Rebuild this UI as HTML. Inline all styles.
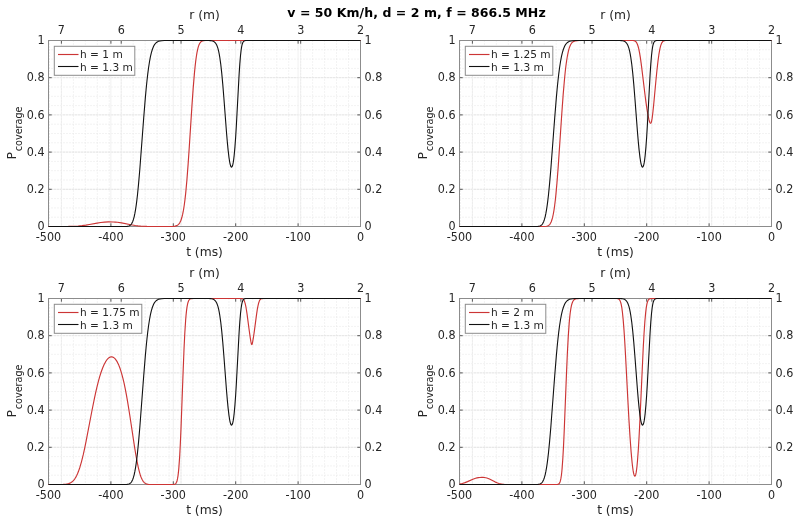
<!DOCTYPE html>
<html><head><meta charset="utf-8"><title>P coverage</title><style>
html,body{margin:0;padding:0;background:#fff;}
svg{display:block;}
text{font-family:"DejaVu Sans","Liberation Sans",sans-serif;fill:#262626;}
.tl{font-size:11.2px;}
.al{font-size:12.3px;}
.sub{font-size:9.6px;}
.lt{font-size:10.6px;}
.tt{font-size:12.5px;font-weight:bold;fill:#000;letter-spacing:0.06px;}
.mn{stroke:#e6e6e6;stroke-width:1;stroke-dasharray:1 2;fill:none;}
.mj{stroke:#f1f1f1;stroke-width:1;fill:none;}
.md{stroke:#d8d8d8;stroke-width:1;stroke-dasharray:1 2;fill:none;}
.tk{stroke:#555;stroke-width:1;fill:none;}
.box{stroke:#8c8c8c;stroke-width:1;fill:none;}
.cr{stroke:#cc3535;stroke-width:1.15;fill:none;stroke-linejoin:round;}
.ck{stroke:#111;stroke-width:1.1;fill:none;stroke-linejoin:round;}
.lg{stroke:#8c8c8c;stroke-width:1;fill:#fff;}
</style></head>
<body><svg width="799" height="522" viewBox="0 0 799 522">
<rect width="799" height="522" fill="#fff"/>
<text x="416.5" y="16.6" class="tt" text-anchor="middle">v = 50 Km/h, d = 2 m, f = 866.5 MHz</text>
<g><line x1="48.5" y1="217.2" x2="360.5" y2="217.2" class="mn"/><line x1="48.5" y1="207.9" x2="360.5" y2="207.9" class="mn"/><line x1="48.5" y1="198.6" x2="360.5" y2="198.6" class="mn"/><line x1="48.5" y1="180" x2="360.5" y2="180" class="mn"/><line x1="48.5" y1="170.7" x2="360.5" y2="170.7" class="mn"/><line x1="48.5" y1="161.4" x2="360.5" y2="161.4" class="mn"/><line x1="48.5" y1="142.8" x2="360.5" y2="142.8" class="mn"/><line x1="48.5" y1="133.5" x2="360.5" y2="133.5" class="mn"/><line x1="48.5" y1="124.2" x2="360.5" y2="124.2" class="mn"/><line x1="48.5" y1="105.6" x2="360.5" y2="105.6" class="mn"/><line x1="48.5" y1="96.3" x2="360.5" y2="96.3" class="mn"/><line x1="48.5" y1="87" x2="360.5" y2="87" class="mn"/><line x1="48.5" y1="68.4" x2="360.5" y2="68.4" class="mn"/><line x1="48.5" y1="59.1" x2="360.5" y2="59.1" class="mn"/><line x1="48.5" y1="49.8" x2="360.5" y2="49.8" class="mn"/><line x1="348.54" y1="40.5" x2="348.54" y2="226.5" class="mn"/><line x1="336.57" y1="40.5" x2="336.57" y2="226.5" class="mn"/><line x1="324.61" y1="40.5" x2="324.61" y2="226.5" class="mn"/><line x1="312.64" y1="40.5" x2="312.64" y2="226.5" class="mn"/><line x1="288.72" y1="40.5" x2="288.72" y2="226.5" class="mn"/><line x1="276.75" y1="40.5" x2="276.75" y2="226.5" class="mn"/><line x1="264.79" y1="40.5" x2="264.79" y2="226.5" class="mn"/><line x1="252.82" y1="40.5" x2="252.82" y2="226.5" class="mn"/><line x1="228.9" y1="40.5" x2="228.9" y2="226.5" class="mn"/><line x1="216.93" y1="40.5" x2="216.93" y2="226.5" class="mn"/><line x1="204.97" y1="40.5" x2="204.97" y2="226.5" class="mn"/><line x1="193" y1="40.5" x2="193" y2="226.5" class="mn"/><line x1="169.08" y1="40.5" x2="169.08" y2="226.5" class="mn"/><line x1="157.11" y1="40.5" x2="157.11" y2="226.5" class="mn"/><line x1="145.15" y1="40.5" x2="145.15" y2="226.5" class="mn"/><line x1="133.18" y1="40.5" x2="133.18" y2="226.5" class="mn"/><line x1="109.26" y1="40.5" x2="109.26" y2="226.5" class="mn"/><line x1="97.29" y1="40.5" x2="97.29" y2="226.5" class="mn"/><line x1="85.33" y1="40.5" x2="85.33" y2="226.5" class="mn"/><line x1="73.36" y1="40.5" x2="73.36" y2="226.5" class="mn"/><line x1="49.44" y1="40.5" x2="49.44" y2="226.5" class="mn"/><line x1="48.5" y1="189.3" x2="360.5" y2="189.3" class="mj"/><line x1="48.5" y1="189.3" x2="360.5" y2="189.3" class="md"/><line x1="48.5" y1="152.1" x2="360.5" y2="152.1" class="mj"/><line x1="48.5" y1="152.1" x2="360.5" y2="152.1" class="md"/><line x1="48.5" y1="114.9" x2="360.5" y2="114.9" class="mj"/><line x1="48.5" y1="114.9" x2="360.5" y2="114.9" class="md"/><line x1="48.5" y1="77.7" x2="360.5" y2="77.7" class="mj"/><line x1="48.5" y1="77.7" x2="360.5" y2="77.7" class="md"/><line x1="110.9" y1="40.5" x2="110.9" y2="226.5" class="mj"/><line x1="173.3" y1="40.5" x2="173.3" y2="226.5" class="mj"/><line x1="235.7" y1="40.5" x2="235.7" y2="226.5" class="mj"/><line x1="298.1" y1="40.5" x2="298.1" y2="226.5" class="mj"/><line x1="300.68" y1="40.5" x2="300.68" y2="226.5" class="mj"/><line x1="300.68" y1="40.5" x2="300.68" y2="226.5" class="mn"/><line x1="240.86" y1="40.5" x2="240.86" y2="226.5" class="mj"/><line x1="240.86" y1="40.5" x2="240.86" y2="226.5" class="mn"/><line x1="181.04" y1="40.5" x2="181.04" y2="226.5" class="mj"/><line x1="181.04" y1="40.5" x2="181.04" y2="226.5" class="mn"/><line x1="121.22" y1="40.5" x2="121.22" y2="226.5" class="mj"/><line x1="121.22" y1="40.5" x2="121.22" y2="226.5" class="mn"/><line x1="61.4" y1="40.5" x2="61.4" y2="226.5" class="mj"/><line x1="61.4" y1="40.5" x2="61.4" y2="226.5" class="mn"/></g>
<path d="M110.9,226.5v-3.2M110.9,40.5v3.2M173.3,226.5v-3.2M173.3,40.5v3.2M235.7,226.5v-3.2M235.7,40.5v3.2M298.1,226.5v-3.2M298.1,40.5v3.2M300.68,40.5v3.2M240.86,40.5v3.2M181.04,40.5v3.2M121.22,40.5v3.2M61.4,40.5v3.2M48.5,189.3h3.2M360.5,189.3h-3.2M48.5,152.1h3.2M360.5,152.1h-3.2M48.5,114.9h3.2M360.5,114.9h-3.2M48.5,77.7h3.2M360.5,77.7h-3.2" class="tk"/>
<rect x="48.5" y="40.5" width="312" height="186" class="box"/>
<path d="M48.50,226.50L68.37,226.43L73.72,226.28L78.20,226.02L82.10,225.65L85.95,225.13L89.43,224.54L97.08,223.10L100.77,222.52L104.62,222.10L108.41,221.92L113.20,221.95L115.28,222.07L117.36,222.27L121.57,222.91L130.78,224.75L135.35,225.51L138.01,225.83L140.71,226.08L146.90,226.38L153.30,226.48L165.00,226.50L170.51,226.47L173.27,226.36L175.19,226.09L176.65,225.64L177.27,225.32L177.90,224.90L178.47,224.40L178.99,223.83L179.51,223.13L180.03,222.26L180.97,220.21L181.85,217.52L182.68,214.18L183.46,210.19L184.24,205.24L184.97,199.66L185.70,193.10L186.90,180.13L188.14,163.89L189.29,147.07L191.89,106.62L193.19,88.16L194.44,73.14L195.06,66.83L195.68,61.37L196.31,56.73L196.93,52.89L197.61,49.53L198.28,46.93L199.01,44.84L199.79,43.25L200.63,42.13L201.09,41.69L201.61,41.33L202.55,40.91L203.64,40.67L205.05,40.55L207.28,40.50L360.50,40.50" class="cr"/>
<path d="M48.50,226.50L125.73,226.46L126.93,226.38L127.92,226.25L128.75,226.03L129.48,225.73L130.15,225.30L130.73,224.80L131.30,224.13L131.82,223.35L132.65,221.66L133.43,219.47L134.16,216.80L134.83,213.70L135.51,209.92L136.19,205.44L136.81,200.64L137.49,194.73L138.58,183.67L139.78,169.70L143.73,117.48L145.29,98.37L146.12,89.26L146.95,81.03L147.73,74.18L148.56,67.78L149.45,62.01L150.38,56.95L151.32,52.88L152.31,49.52L153.40,46.72L153.97,45.58L154.55,44.62L155.17,43.76L155.79,43.06L156.47,42.46L157.25,41.93L158.50,41.34L160.01,40.93L161.83,40.68L164.32,40.55L169.89,40.50L204.99,40.50L208.79,40.55L210.35,40.64L211.55,40.79L212.54,41.02L213.42,41.35L214.20,41.80L214.88,42.36L215.50,43.05L216.12,43.97L216.80,45.29L217.42,46.87L218.00,48.68L218.57,50.91L219.14,53.62L219.66,56.53L220.70,63.80L221.74,73.10L222.78,84.36L223.82,97.21L226.47,132.07L227.31,141.86L228.09,149.89L228.97,157.34L229.44,160.49L229.85,162.81L230.32,164.84L230.74,166.12L231.15,166.89L231.36,167.08L231.57,167.13L231.83,167.01L232.04,166.76L232.45,165.82L232.87,164.29L233.29,162.14L233.70,159.34L234.12,155.87L234.95,146.85L235.63,137.48L236.30,126.46L239.11,74.37L239.79,64.15L240.46,56.00L241.14,49.99L241.50,47.58L241.87,45.67L242.23,44.20L242.65,42.96L243.12,42.00L243.64,41.33L244.21,40.91L244.88,40.67L245.77,40.55L247.23,40.50L360.50,40.50" class="ck"/>
<text transform="translate(48.5,240.5) scale(1,1.15)" class="tl" text-anchor="middle">-500</text><text transform="translate(110.9,240.5) scale(1,1.15)" class="tl" text-anchor="middle">-400</text><text transform="translate(173.3,240.5) scale(1,1.15)" class="tl" text-anchor="middle">-300</text><text transform="translate(235.7,240.5) scale(1,1.15)" class="tl" text-anchor="middle">-200</text><text transform="translate(298.1,240.5) scale(1,1.15)" class="tl" text-anchor="middle">-100</text><text transform="translate(360.5,240.5) scale(1,1.15)" class="tl" text-anchor="middle">0</text><text transform="translate(61.4,33.5) scale(1,1.15)" class="tl" text-anchor="middle">7</text><text transform="translate(121.22,33.5) scale(1,1.15)" class="tl" text-anchor="middle">6</text><text transform="translate(181.04,33.5) scale(1,1.15)" class="tl" text-anchor="middle">5</text><text transform="translate(240.86,33.5) scale(1,1.15)" class="tl" text-anchor="middle">4</text><text transform="translate(300.68,33.5) scale(1,1.15)" class="tl" text-anchor="middle">3</text><text transform="translate(360.5,33.5) scale(1,1.15)" class="tl" text-anchor="middle">2</text><text transform="translate(44.5,230.1) scale(1,1.15)" class="tl" text-anchor="end">0</text><text transform="translate(364.5,230.1) scale(1,1.15)" class="tl" text-anchor="start">0</text><text transform="translate(44.5,192.9) scale(1,1.15)" class="tl" text-anchor="end">0.2</text><text transform="translate(364.5,192.9) scale(1,1.15)" class="tl" text-anchor="start">0.2</text><text transform="translate(44.5,155.7) scale(1,1.15)" class="tl" text-anchor="end">0.4</text><text transform="translate(364.5,155.7) scale(1,1.15)" class="tl" text-anchor="start">0.4</text><text transform="translate(44.5,118.5) scale(1,1.15)" class="tl" text-anchor="end">0.6</text><text transform="translate(364.5,118.5) scale(1,1.15)" class="tl" text-anchor="start">0.6</text><text transform="translate(44.5,81.3) scale(1,1.15)" class="tl" text-anchor="end">0.8</text><text transform="translate(364.5,81.3) scale(1,1.15)" class="tl" text-anchor="start">0.8</text><text transform="translate(44.5,44.1) scale(1,1.15)" class="tl" text-anchor="end">1</text><text transform="translate(364.5,44.1) scale(1,1.15)" class="tl" text-anchor="start">1</text>
<text x="204.5" y="255.5" class="al" text-anchor="middle">t (ms)</text>
<text x="204.5" y="18.5" class="al" text-anchor="middle">r (m)</text>
<text transform="translate(15.5,133) rotate(-90)" class="al" text-anchor="middle">P<tspan class="sub" dx="0.8" dy="6">coverage</tspan></text>
<rect x="54.3" y="46.3" width="80.5" height="29" class="lg"/>
<path d="M58,54.5h20.5" class="cr"/>
<path d="M58,66.5h20.5" class="ck"/>
<text x="80" y="58.1" class="lt">h = 1 m</text>
<text x="80" y="70.6" class="lt">h = 1.3 m</text>
<g><line x1="459.5" y1="217.2" x2="771.5" y2="217.2" class="mn"/><line x1="459.5" y1="207.9" x2="771.5" y2="207.9" class="mn"/><line x1="459.5" y1="198.6" x2="771.5" y2="198.6" class="mn"/><line x1="459.5" y1="180" x2="771.5" y2="180" class="mn"/><line x1="459.5" y1="170.7" x2="771.5" y2="170.7" class="mn"/><line x1="459.5" y1="161.4" x2="771.5" y2="161.4" class="mn"/><line x1="459.5" y1="142.8" x2="771.5" y2="142.8" class="mn"/><line x1="459.5" y1="133.5" x2="771.5" y2="133.5" class="mn"/><line x1="459.5" y1="124.2" x2="771.5" y2="124.2" class="mn"/><line x1="459.5" y1="105.6" x2="771.5" y2="105.6" class="mn"/><line x1="459.5" y1="96.3" x2="771.5" y2="96.3" class="mn"/><line x1="459.5" y1="87" x2="771.5" y2="87" class="mn"/><line x1="459.5" y1="68.4" x2="771.5" y2="68.4" class="mn"/><line x1="459.5" y1="59.1" x2="771.5" y2="59.1" class="mn"/><line x1="459.5" y1="49.8" x2="771.5" y2="49.8" class="mn"/><line x1="759.54" y1="40.5" x2="759.54" y2="226.5" class="mn"/><line x1="747.57" y1="40.5" x2="747.57" y2="226.5" class="mn"/><line x1="735.61" y1="40.5" x2="735.61" y2="226.5" class="mn"/><line x1="723.64" y1="40.5" x2="723.64" y2="226.5" class="mn"/><line x1="699.72" y1="40.5" x2="699.72" y2="226.5" class="mn"/><line x1="687.75" y1="40.5" x2="687.75" y2="226.5" class="mn"/><line x1="675.79" y1="40.5" x2="675.79" y2="226.5" class="mn"/><line x1="663.82" y1="40.5" x2="663.82" y2="226.5" class="mn"/><line x1="639.9" y1="40.5" x2="639.9" y2="226.5" class="mn"/><line x1="627.93" y1="40.5" x2="627.93" y2="226.5" class="mn"/><line x1="615.97" y1="40.5" x2="615.97" y2="226.5" class="mn"/><line x1="604" y1="40.5" x2="604" y2="226.5" class="mn"/><line x1="580.08" y1="40.5" x2="580.08" y2="226.5" class="mn"/><line x1="568.11" y1="40.5" x2="568.11" y2="226.5" class="mn"/><line x1="556.15" y1="40.5" x2="556.15" y2="226.5" class="mn"/><line x1="544.18" y1="40.5" x2="544.18" y2="226.5" class="mn"/><line x1="520.26" y1="40.5" x2="520.26" y2="226.5" class="mn"/><line x1="508.29" y1="40.5" x2="508.29" y2="226.5" class="mn"/><line x1="496.33" y1="40.5" x2="496.33" y2="226.5" class="mn"/><line x1="484.36" y1="40.5" x2="484.36" y2="226.5" class="mn"/><line x1="460.44" y1="40.5" x2="460.44" y2="226.5" class="mn"/><line x1="459.5" y1="189.3" x2="771.5" y2="189.3" class="mj"/><line x1="459.5" y1="189.3" x2="771.5" y2="189.3" class="md"/><line x1="459.5" y1="152.1" x2="771.5" y2="152.1" class="mj"/><line x1="459.5" y1="152.1" x2="771.5" y2="152.1" class="md"/><line x1="459.5" y1="114.9" x2="771.5" y2="114.9" class="mj"/><line x1="459.5" y1="114.9" x2="771.5" y2="114.9" class="md"/><line x1="459.5" y1="77.7" x2="771.5" y2="77.7" class="mj"/><line x1="459.5" y1="77.7" x2="771.5" y2="77.7" class="md"/><line x1="521.9" y1="40.5" x2="521.9" y2="226.5" class="mj"/><line x1="584.3" y1="40.5" x2="584.3" y2="226.5" class="mj"/><line x1="646.7" y1="40.5" x2="646.7" y2="226.5" class="mj"/><line x1="709.1" y1="40.5" x2="709.1" y2="226.5" class="mj"/><line x1="711.68" y1="40.5" x2="711.68" y2="226.5" class="mj"/><line x1="711.68" y1="40.5" x2="711.68" y2="226.5" class="mn"/><line x1="651.86" y1="40.5" x2="651.86" y2="226.5" class="mj"/><line x1="651.86" y1="40.5" x2="651.86" y2="226.5" class="mn"/><line x1="592.04" y1="40.5" x2="592.04" y2="226.5" class="mj"/><line x1="592.04" y1="40.5" x2="592.04" y2="226.5" class="mn"/><line x1="532.22" y1="40.5" x2="532.22" y2="226.5" class="mj"/><line x1="532.22" y1="40.5" x2="532.22" y2="226.5" class="mn"/><line x1="472.4" y1="40.5" x2="472.4" y2="226.5" class="mj"/><line x1="472.4" y1="40.5" x2="472.4" y2="226.5" class="mn"/></g>
<path d="M521.9,226.5v-3.2M521.9,40.5v3.2M584.3,226.5v-3.2M584.3,40.5v3.2M646.7,226.5v-3.2M646.7,40.5v3.2M709.1,226.5v-3.2M709.1,40.5v3.2M711.68,40.5v3.2M651.86,40.5v3.2M592.04,40.5v3.2M532.22,40.5v3.2M472.4,40.5v3.2M459.5,189.3h3.2M771.5,189.3h-3.2M459.5,152.1h3.2M771.5,152.1h-3.2M459.5,114.9h3.2M771.5,114.9h-3.2M459.5,77.7h3.2M771.5,77.7h-3.2" class="tk"/>
<rect x="459.5" y="40.5" width="312" height="186" class="box"/>
<path d="M459.50,226.50L544.12,226.46L546.41,226.26L547.24,226.07L547.97,225.79L548.64,225.41L549.21,224.94L549.79,224.32L550.31,223.58L551.14,221.96L551.92,219.82L552.65,217.16L553.32,214.00L554.00,210.09L554.62,205.76L555.30,200.23L555.92,194.34L556.96,182.87L558.11,168.12L561.75,114.21L563.15,94.89L564.56,78.47L565.23,71.80L565.96,65.55L566.69,60.24L567.47,55.53L568.30,51.53L569.13,48.42L570.02,45.96L570.49,44.94L571.01,44.00L571.53,43.24L572.05,42.63L572.67,42.06L573.29,41.63L574.39,41.12L575.64,40.81L577.20,40.62L579.33,40.53L630.45,40.50L632.79,40.54L634.04,40.69L634.61,40.86L635.08,41.08L635.91,41.73L636.43,42.38L636.90,43.17L637.37,44.19L637.84,45.48L638.72,48.71L639.61,53.05L640.44,58.13L641.37,64.84L645.12,95.77L646.06,102.87L646.94,108.91L647.98,115.02L648.97,119.64L649.44,121.31L649.85,122.43L650.22,123.05L650.42,123.23L650.58,123.27L650.84,123.14L651.10,122.74L651.36,122.05L651.62,121.05L652.14,118.19L652.66,114.29L653.65,104.98L655.88,80.98L656.92,70.48L657.97,61.27L658.90,54.46L659.89,48.95L660.36,46.95L660.88,45.14L661.40,43.74L661.97,42.60L662.54,41.80L663.22,41.19L663.84,40.86L664.62,40.65L665.61,40.54L667.12,40.50L771.50,40.50" class="cr"/>
<path d="M459.50,226.50L536.73,226.46L537.93,226.38L538.92,226.25L539.75,226.03L540.48,225.73L541.15,225.30L541.73,224.80L542.30,224.13L542.82,223.35L543.65,221.66L544.43,219.47L545.16,216.80L545.83,213.70L546.51,209.92L547.19,205.44L547.81,200.64L548.49,194.73L549.58,183.67L550.78,169.70L554.73,117.48L556.29,98.37L557.12,89.26L557.95,81.03L558.73,74.18L559.56,67.78L560.45,62.01L561.38,56.95L562.32,52.88L563.31,49.52L564.40,46.72L564.97,45.58L565.55,44.62L566.17,43.76L566.79,43.06L567.47,42.46L568.25,41.93L569.50,41.34L571.01,40.93L572.83,40.68L575.32,40.55L580.89,40.50L615.99,40.50L619.79,40.55L621.35,40.64L622.55,40.79L623.54,41.02L624.42,41.35L625.20,41.80L625.88,42.36L626.50,43.05L627.12,43.97L627.80,45.29L628.42,46.87L629.00,48.68L629.57,50.91L630.14,53.62L630.66,56.53L631.70,63.80L632.74,73.10L633.78,84.36L634.82,97.21L637.47,132.07L638.31,141.86L639.09,149.89L639.97,157.34L640.44,160.49L640.85,162.81L641.32,164.84L641.74,166.12L642.15,166.89L642.36,167.08L642.57,167.13L642.83,167.01L643.04,166.76L643.45,165.82L643.87,164.29L644.29,162.14L644.70,159.34L645.12,155.87L645.95,146.85L646.63,137.48L647.30,126.46L650.11,74.37L650.79,64.15L651.46,56.00L652.14,49.99L652.50,47.58L652.87,45.67L653.23,44.20L653.65,42.96L654.12,42.00L654.64,41.33L655.21,40.91L655.88,40.67L656.77,40.55L658.23,40.50L771.50,40.50" class="ck"/>
<text transform="translate(459.5,240.5) scale(1,1.15)" class="tl" text-anchor="middle">-500</text><text transform="translate(521.9,240.5) scale(1,1.15)" class="tl" text-anchor="middle">-400</text><text transform="translate(584.3,240.5) scale(1,1.15)" class="tl" text-anchor="middle">-300</text><text transform="translate(646.7,240.5) scale(1,1.15)" class="tl" text-anchor="middle">-200</text><text transform="translate(709.1,240.5) scale(1,1.15)" class="tl" text-anchor="middle">-100</text><text transform="translate(771.5,240.5) scale(1,1.15)" class="tl" text-anchor="middle">0</text><text transform="translate(472.4,33.5) scale(1,1.15)" class="tl" text-anchor="middle">7</text><text transform="translate(532.22,33.5) scale(1,1.15)" class="tl" text-anchor="middle">6</text><text transform="translate(592.04,33.5) scale(1,1.15)" class="tl" text-anchor="middle">5</text><text transform="translate(651.86,33.5) scale(1,1.15)" class="tl" text-anchor="middle">4</text><text transform="translate(711.68,33.5) scale(1,1.15)" class="tl" text-anchor="middle">3</text><text transform="translate(771.5,33.5) scale(1,1.15)" class="tl" text-anchor="middle">2</text><text transform="translate(455.5,230.1) scale(1,1.15)" class="tl" text-anchor="end">0</text><text transform="translate(775.5,230.1) scale(1,1.15)" class="tl" text-anchor="start">0</text><text transform="translate(455.5,192.9) scale(1,1.15)" class="tl" text-anchor="end">0.2</text><text transform="translate(775.5,192.9) scale(1,1.15)" class="tl" text-anchor="start">0.2</text><text transform="translate(455.5,155.7) scale(1,1.15)" class="tl" text-anchor="end">0.4</text><text transform="translate(775.5,155.7) scale(1,1.15)" class="tl" text-anchor="start">0.4</text><text transform="translate(455.5,118.5) scale(1,1.15)" class="tl" text-anchor="end">0.6</text><text transform="translate(775.5,118.5) scale(1,1.15)" class="tl" text-anchor="start">0.6</text><text transform="translate(455.5,81.3) scale(1,1.15)" class="tl" text-anchor="end">0.8</text><text transform="translate(775.5,81.3) scale(1,1.15)" class="tl" text-anchor="start">0.8</text><text transform="translate(455.5,44.1) scale(1,1.15)" class="tl" text-anchor="end">1</text><text transform="translate(775.5,44.1) scale(1,1.15)" class="tl" text-anchor="start">1</text>
<text x="615.5" y="255.5" class="al" text-anchor="middle">t (ms)</text>
<text x="615.5" y="18.5" class="al" text-anchor="middle">r (m)</text>
<text transform="translate(426.5,133) rotate(-90)" class="al" text-anchor="middle">P<tspan class="sub" dx="0.8" dy="6">coverage</tspan></text>
<rect x="465.3" y="46.3" width="87.5" height="29" class="lg"/>
<path d="M469,54.5h20.5" class="cr"/>
<path d="M469,66.5h20.5" class="ck"/>
<text x="491" y="58.1" class="lt">h = 1.25 m</text>
<text x="491" y="70.6" class="lt">h = 1.3 m</text>
<g><line x1="48.5" y1="475.2" x2="360.5" y2="475.2" class="mn"/><line x1="48.5" y1="465.9" x2="360.5" y2="465.9" class="mn"/><line x1="48.5" y1="456.6" x2="360.5" y2="456.6" class="mn"/><line x1="48.5" y1="438" x2="360.5" y2="438" class="mn"/><line x1="48.5" y1="428.7" x2="360.5" y2="428.7" class="mn"/><line x1="48.5" y1="419.4" x2="360.5" y2="419.4" class="mn"/><line x1="48.5" y1="400.8" x2="360.5" y2="400.8" class="mn"/><line x1="48.5" y1="391.5" x2="360.5" y2="391.5" class="mn"/><line x1="48.5" y1="382.2" x2="360.5" y2="382.2" class="mn"/><line x1="48.5" y1="363.6" x2="360.5" y2="363.6" class="mn"/><line x1="48.5" y1="354.3" x2="360.5" y2="354.3" class="mn"/><line x1="48.5" y1="345" x2="360.5" y2="345" class="mn"/><line x1="48.5" y1="326.4" x2="360.5" y2="326.4" class="mn"/><line x1="48.5" y1="317.1" x2="360.5" y2="317.1" class="mn"/><line x1="48.5" y1="307.8" x2="360.5" y2="307.8" class="mn"/><line x1="348.54" y1="298.5" x2="348.54" y2="484.5" class="mn"/><line x1="336.57" y1="298.5" x2="336.57" y2="484.5" class="mn"/><line x1="324.61" y1="298.5" x2="324.61" y2="484.5" class="mn"/><line x1="312.64" y1="298.5" x2="312.64" y2="484.5" class="mn"/><line x1="288.72" y1="298.5" x2="288.72" y2="484.5" class="mn"/><line x1="276.75" y1="298.5" x2="276.75" y2="484.5" class="mn"/><line x1="264.79" y1="298.5" x2="264.79" y2="484.5" class="mn"/><line x1="252.82" y1="298.5" x2="252.82" y2="484.5" class="mn"/><line x1="228.9" y1="298.5" x2="228.9" y2="484.5" class="mn"/><line x1="216.93" y1="298.5" x2="216.93" y2="484.5" class="mn"/><line x1="204.97" y1="298.5" x2="204.97" y2="484.5" class="mn"/><line x1="193" y1="298.5" x2="193" y2="484.5" class="mn"/><line x1="169.08" y1="298.5" x2="169.08" y2="484.5" class="mn"/><line x1="157.11" y1="298.5" x2="157.11" y2="484.5" class="mn"/><line x1="145.15" y1="298.5" x2="145.15" y2="484.5" class="mn"/><line x1="133.18" y1="298.5" x2="133.18" y2="484.5" class="mn"/><line x1="109.26" y1="298.5" x2="109.26" y2="484.5" class="mn"/><line x1="97.29" y1="298.5" x2="97.29" y2="484.5" class="mn"/><line x1="85.33" y1="298.5" x2="85.33" y2="484.5" class="mn"/><line x1="73.36" y1="298.5" x2="73.36" y2="484.5" class="mn"/><line x1="49.44" y1="298.5" x2="49.44" y2="484.5" class="mn"/><line x1="48.5" y1="447.3" x2="360.5" y2="447.3" class="mj"/><line x1="48.5" y1="447.3" x2="360.5" y2="447.3" class="md"/><line x1="48.5" y1="410.1" x2="360.5" y2="410.1" class="mj"/><line x1="48.5" y1="410.1" x2="360.5" y2="410.1" class="md"/><line x1="48.5" y1="372.9" x2="360.5" y2="372.9" class="mj"/><line x1="48.5" y1="372.9" x2="360.5" y2="372.9" class="md"/><line x1="48.5" y1="335.7" x2="360.5" y2="335.7" class="mj"/><line x1="48.5" y1="335.7" x2="360.5" y2="335.7" class="md"/><line x1="110.9" y1="298.5" x2="110.9" y2="484.5" class="mj"/><line x1="173.3" y1="298.5" x2="173.3" y2="484.5" class="mj"/><line x1="235.7" y1="298.5" x2="235.7" y2="484.5" class="mj"/><line x1="298.1" y1="298.5" x2="298.1" y2="484.5" class="mj"/><line x1="300.68" y1="298.5" x2="300.68" y2="484.5" class="mj"/><line x1="300.68" y1="298.5" x2="300.68" y2="484.5" class="mn"/><line x1="240.86" y1="298.5" x2="240.86" y2="484.5" class="mj"/><line x1="240.86" y1="298.5" x2="240.86" y2="484.5" class="mn"/><line x1="181.04" y1="298.5" x2="181.04" y2="484.5" class="mj"/><line x1="181.04" y1="298.5" x2="181.04" y2="484.5" class="mn"/><line x1="121.22" y1="298.5" x2="121.22" y2="484.5" class="mj"/><line x1="121.22" y1="298.5" x2="121.22" y2="484.5" class="mn"/><line x1="61.4" y1="298.5" x2="61.4" y2="484.5" class="mj"/><line x1="61.4" y1="298.5" x2="61.4" y2="484.5" class="mn"/></g>
<path d="M110.9,484.5v-3.2M110.9,298.5v3.2M173.3,484.5v-3.2M173.3,298.5v3.2M235.7,484.5v-3.2M235.7,298.5v3.2M298.1,484.5v-3.2M298.1,298.5v3.2M300.68,298.5v3.2M240.86,298.5v3.2M181.04,298.5v3.2M121.22,298.5v3.2M61.4,298.5v3.2M48.5,447.3h3.2M360.5,447.3h-3.2M48.5,410.1h3.2M360.5,410.1h-3.2M48.5,372.9h3.2M360.5,372.9h-3.2M48.5,335.7h3.2M360.5,335.7h-3.2" class="tk"/>
<rect x="48.5" y="298.5" width="312" height="186" class="box"/>
<path d="M48.50,484.50L59.01,484.49L63.17,484.40L66.29,484.14L67.54,483.91L68.68,483.61L69.88,483.16L71.02,482.56L72.11,481.79L73.10,480.89L74.04,479.84L74.97,478.57L75.86,477.13L76.69,475.56L77.52,473.75L78.30,471.84L79.91,467.20L81.53,461.60L83.19,454.89L84.65,448.33L86.21,440.73L91.98,410.51L94.48,398.11L95.83,391.90L97.13,386.33L98.38,381.41L99.62,376.93L101.08,372.26L102.54,368.22L103.99,364.80L105.50,361.91L106.23,360.75L106.96,359.74L107.69,358.89L108.47,358.13L109.25,357.55L109.97,357.17L110.70,356.93L111.43,356.85L112.21,356.93L112.94,357.17L113.72,357.60L114.45,358.17L115.18,358.91L115.90,359.82L116.63,360.90L117.36,362.16L118.76,365.12L120.17,368.81L121.52,373.10L122.87,378.13L124.02,382.99L125.16,388.40L126.36,394.63L127.55,401.42L129.74,415.01L134.52,446.76L135.77,454.38L136.91,460.74L138.21,467.08L139.52,472.32L140.14,474.44L140.82,476.44L141.44,478.02L142.12,479.48L142.74,480.59L143.42,481.58L144.09,482.36L144.82,483.01L145.60,483.51L146.43,483.89L147.37,484.16L148.46,484.34L150.02,484.45L152.36,484.49L173.06,484.48L174.10,484.39L174.83,484.20L175.40,483.88L175.92,483.35L176.55,482.25L177.07,480.72L177.53,478.68L178.00,475.82L178.42,472.44L178.83,468.14L179.67,456.38L180.34,443.57L181.02,428.07L183.15,370.65L183.98,350.03L184.81,332.95L185.65,320.02L186.06,315.08L186.53,310.61L187.00,307.15L187.47,304.55L187.99,302.46L188.61,300.80L189.29,299.72L189.65,299.35L190.07,299.06L190.64,298.80L191.37,298.63L193.55,298.51L238.80,298.50L240.78,298.51L241.71,298.58L242.44,298.76L243.01,299.07L243.43,299.45L243.79,299.94L244.16,300.59L244.52,301.45L245.20,303.65L245.87,306.72L246.44,309.98L247.07,314.11L249.36,331.46L250.35,338.32L250.81,341.16L251.23,343.25L251.54,344.28L251.70,344.53L251.80,344.59L251.96,344.48L252.11,344.18L252.43,343.09L253.31,338.22L254.35,331.09L256.64,313.86L257.31,309.45L257.94,306.03L258.67,302.95L259.40,300.86L259.76,300.14L260.18,299.54L260.64,299.09L261.16,298.79L262.15,298.56L263.92,298.50L360.50,298.50" class="cr"/>
<path d="M48.50,484.50L125.73,484.46L126.93,484.38L127.92,484.25L128.75,484.03L129.48,483.73L130.15,483.30L130.73,482.80L131.30,482.13L131.82,481.35L132.65,479.66L133.43,477.47L134.16,474.80L134.83,471.70L135.51,467.92L136.19,463.44L136.81,458.64L137.49,452.73L138.58,441.67L139.78,427.70L143.73,375.48L145.29,356.37L146.12,347.26L146.95,339.03L147.73,332.18L148.56,325.78L149.45,320.01L150.38,314.95L151.32,310.88L152.31,307.52L153.40,304.72L153.97,303.58L154.55,302.62L155.17,301.76L155.79,301.06L156.47,300.46L157.25,299.93L158.50,299.34L160.01,298.93L161.83,298.68L164.32,298.55L169.89,298.50L204.99,298.50L208.79,298.55L210.35,298.64L211.55,298.79L212.54,299.02L213.42,299.35L214.20,299.80L214.88,300.36L215.50,301.05L216.12,301.97L216.80,303.29L217.42,304.87L218.00,306.68L218.57,308.91L219.14,311.62L219.66,314.53L220.70,321.80L221.74,331.10L222.78,342.36L223.82,355.21L226.47,390.07L227.31,399.86L228.09,407.89L228.97,415.34L229.44,418.49L229.85,420.81L230.32,422.84L230.74,424.12L231.15,424.89L231.36,425.08L231.57,425.13L231.83,425.01L232.04,424.76L232.45,423.82L232.87,422.29L233.29,420.14L233.70,417.34L234.12,413.87L234.95,404.85L235.63,395.48L236.30,384.46L239.11,332.37L239.79,322.15L240.46,314.00L241.14,307.99L241.50,305.58L241.87,303.67L242.23,302.20L242.65,300.96L243.12,300.00L243.64,299.33L244.21,298.91L244.88,298.67L245.77,298.55L247.23,298.50L360.50,298.50" class="ck"/>
<text transform="translate(48.5,498.5) scale(1,1.15)" class="tl" text-anchor="middle">-500</text><text transform="translate(110.9,498.5) scale(1,1.15)" class="tl" text-anchor="middle">-400</text><text transform="translate(173.3,498.5) scale(1,1.15)" class="tl" text-anchor="middle">-300</text><text transform="translate(235.7,498.5) scale(1,1.15)" class="tl" text-anchor="middle">-200</text><text transform="translate(298.1,498.5) scale(1,1.15)" class="tl" text-anchor="middle">-100</text><text transform="translate(360.5,498.5) scale(1,1.15)" class="tl" text-anchor="middle">0</text><text transform="translate(61.4,291.5) scale(1,1.15)" class="tl" text-anchor="middle">7</text><text transform="translate(121.22,291.5) scale(1,1.15)" class="tl" text-anchor="middle">6</text><text transform="translate(181.04,291.5) scale(1,1.15)" class="tl" text-anchor="middle">5</text><text transform="translate(240.86,291.5) scale(1,1.15)" class="tl" text-anchor="middle">4</text><text transform="translate(300.68,291.5) scale(1,1.15)" class="tl" text-anchor="middle">3</text><text transform="translate(360.5,291.5) scale(1,1.15)" class="tl" text-anchor="middle">2</text><text transform="translate(44.5,488.1) scale(1,1.15)" class="tl" text-anchor="end">0</text><text transform="translate(364.5,488.1) scale(1,1.15)" class="tl" text-anchor="start">0</text><text transform="translate(44.5,450.9) scale(1,1.15)" class="tl" text-anchor="end">0.2</text><text transform="translate(364.5,450.9) scale(1,1.15)" class="tl" text-anchor="start">0.2</text><text transform="translate(44.5,413.7) scale(1,1.15)" class="tl" text-anchor="end">0.4</text><text transform="translate(364.5,413.7) scale(1,1.15)" class="tl" text-anchor="start">0.4</text><text transform="translate(44.5,376.5) scale(1,1.15)" class="tl" text-anchor="end">0.6</text><text transform="translate(364.5,376.5) scale(1,1.15)" class="tl" text-anchor="start">0.6</text><text transform="translate(44.5,339.3) scale(1,1.15)" class="tl" text-anchor="end">0.8</text><text transform="translate(364.5,339.3) scale(1,1.15)" class="tl" text-anchor="start">0.8</text><text transform="translate(44.5,302.1) scale(1,1.15)" class="tl" text-anchor="end">1</text><text transform="translate(364.5,302.1) scale(1,1.15)" class="tl" text-anchor="start">1</text>
<text x="204.5" y="513.5" class="al" text-anchor="middle">t (ms)</text>
<text x="204.5" y="276.5" class="al" text-anchor="middle">r (m)</text>
<text transform="translate(15.5,391) rotate(-90)" class="al" text-anchor="middle">P<tspan class="sub" dx="0.8" dy="6">coverage</tspan></text>
<rect x="54.3" y="304.3" width="87.5" height="29" class="lg"/>
<path d="M58,312.5h20.5" class="cr"/>
<path d="M58,324.5h20.5" class="ck"/>
<text x="80" y="316.1" class="lt">h = 1.75 m</text>
<text x="80" y="328.6" class="lt">h = 1.3 m</text>
<g><line x1="459.5" y1="475.2" x2="771.5" y2="475.2" class="mn"/><line x1="459.5" y1="465.9" x2="771.5" y2="465.9" class="mn"/><line x1="459.5" y1="456.6" x2="771.5" y2="456.6" class="mn"/><line x1="459.5" y1="438" x2="771.5" y2="438" class="mn"/><line x1="459.5" y1="428.7" x2="771.5" y2="428.7" class="mn"/><line x1="459.5" y1="419.4" x2="771.5" y2="419.4" class="mn"/><line x1="459.5" y1="400.8" x2="771.5" y2="400.8" class="mn"/><line x1="459.5" y1="391.5" x2="771.5" y2="391.5" class="mn"/><line x1="459.5" y1="382.2" x2="771.5" y2="382.2" class="mn"/><line x1="459.5" y1="363.6" x2="771.5" y2="363.6" class="mn"/><line x1="459.5" y1="354.3" x2="771.5" y2="354.3" class="mn"/><line x1="459.5" y1="345" x2="771.5" y2="345" class="mn"/><line x1="459.5" y1="326.4" x2="771.5" y2="326.4" class="mn"/><line x1="459.5" y1="317.1" x2="771.5" y2="317.1" class="mn"/><line x1="459.5" y1="307.8" x2="771.5" y2="307.8" class="mn"/><line x1="759.54" y1="298.5" x2="759.54" y2="484.5" class="mn"/><line x1="747.57" y1="298.5" x2="747.57" y2="484.5" class="mn"/><line x1="735.61" y1="298.5" x2="735.61" y2="484.5" class="mn"/><line x1="723.64" y1="298.5" x2="723.64" y2="484.5" class="mn"/><line x1="699.72" y1="298.5" x2="699.72" y2="484.5" class="mn"/><line x1="687.75" y1="298.5" x2="687.75" y2="484.5" class="mn"/><line x1="675.79" y1="298.5" x2="675.79" y2="484.5" class="mn"/><line x1="663.82" y1="298.5" x2="663.82" y2="484.5" class="mn"/><line x1="639.9" y1="298.5" x2="639.9" y2="484.5" class="mn"/><line x1="627.93" y1="298.5" x2="627.93" y2="484.5" class="mn"/><line x1="615.97" y1="298.5" x2="615.97" y2="484.5" class="mn"/><line x1="604" y1="298.5" x2="604" y2="484.5" class="mn"/><line x1="580.08" y1="298.5" x2="580.08" y2="484.5" class="mn"/><line x1="568.11" y1="298.5" x2="568.11" y2="484.5" class="mn"/><line x1="556.15" y1="298.5" x2="556.15" y2="484.5" class="mn"/><line x1="544.18" y1="298.5" x2="544.18" y2="484.5" class="mn"/><line x1="520.26" y1="298.5" x2="520.26" y2="484.5" class="mn"/><line x1="508.29" y1="298.5" x2="508.29" y2="484.5" class="mn"/><line x1="496.33" y1="298.5" x2="496.33" y2="484.5" class="mn"/><line x1="484.36" y1="298.5" x2="484.36" y2="484.5" class="mn"/><line x1="460.44" y1="298.5" x2="460.44" y2="484.5" class="mn"/><line x1="459.5" y1="447.3" x2="771.5" y2="447.3" class="mj"/><line x1="459.5" y1="447.3" x2="771.5" y2="447.3" class="md"/><line x1="459.5" y1="410.1" x2="771.5" y2="410.1" class="mj"/><line x1="459.5" y1="410.1" x2="771.5" y2="410.1" class="md"/><line x1="459.5" y1="372.9" x2="771.5" y2="372.9" class="mj"/><line x1="459.5" y1="372.9" x2="771.5" y2="372.9" class="md"/><line x1="459.5" y1="335.7" x2="771.5" y2="335.7" class="mj"/><line x1="459.5" y1="335.7" x2="771.5" y2="335.7" class="md"/><line x1="521.9" y1="298.5" x2="521.9" y2="484.5" class="mj"/><line x1="584.3" y1="298.5" x2="584.3" y2="484.5" class="mj"/><line x1="646.7" y1="298.5" x2="646.7" y2="484.5" class="mj"/><line x1="709.1" y1="298.5" x2="709.1" y2="484.5" class="mj"/><line x1="711.68" y1="298.5" x2="711.68" y2="484.5" class="mj"/><line x1="711.68" y1="298.5" x2="711.68" y2="484.5" class="mn"/><line x1="651.86" y1="298.5" x2="651.86" y2="484.5" class="mj"/><line x1="651.86" y1="298.5" x2="651.86" y2="484.5" class="mn"/><line x1="592.04" y1="298.5" x2="592.04" y2="484.5" class="mj"/><line x1="592.04" y1="298.5" x2="592.04" y2="484.5" class="mn"/><line x1="532.22" y1="298.5" x2="532.22" y2="484.5" class="mj"/><line x1="532.22" y1="298.5" x2="532.22" y2="484.5" class="mn"/><line x1="472.4" y1="298.5" x2="472.4" y2="484.5" class="mj"/><line x1="472.4" y1="298.5" x2="472.4" y2="484.5" class="mn"/></g>
<path d="M521.9,484.5v-3.2M521.9,298.5v3.2M584.3,484.5v-3.2M584.3,298.5v3.2M646.7,484.5v-3.2M646.7,298.5v3.2M709.1,484.5v-3.2M709.1,298.5v3.2M711.68,298.5v3.2M651.86,298.5v3.2M592.04,298.5v3.2M532.22,298.5v3.2M472.4,298.5v3.2M459.5,447.3h3.2M771.5,447.3h-3.2M459.5,410.1h3.2M771.5,410.1h-3.2M459.5,372.9h3.2M771.5,372.9h-3.2M459.5,335.7h3.2M771.5,335.7h-3.2" class="tk"/>
<rect x="459.5" y="298.5" width="312" height="186" class="box"/>
<path d="M459.50,483.99L462.31,483.44L465.06,482.61L467.51,481.63L472.87,479.22L475.57,478.24L477.03,477.86L478.43,477.61L479.89,477.46L481.50,477.40L483.11,477.41L484.41,477.52L485.66,477.72L486.91,478.04L488.16,478.48L489.46,479.04L494.92,481.85L497.57,482.99L499.08,483.48L500.64,483.85L502.30,484.13L504.18,484.31L507.04,484.45L511.30,484.49L556.34,484.49L557.54,484.41L558.32,484.20L558.94,483.81L559.46,483.18L560.03,481.97L560.50,480.40L560.92,478.41L561.33,475.72L561.75,472.20L562.11,468.36L562.89,457.47L563.52,446.12L564.19,431.43L566.43,374.90L567.31,354.48L568.25,336.61L569.19,323.09L569.71,317.37L570.23,312.78L570.80,308.85L571.42,305.66L572.10,303.23L572.83,301.47L573.24,300.76L573.66,300.21L574.13,299.75L574.65,299.37L575.48,298.99L576.47,298.74L577.72,298.60L579.48,298.53L616.72,298.53L617.50,298.61L618.13,298.75L618.65,298.98L619.06,299.29L619.48,299.74L619.84,300.29L620.52,301.86L620.99,303.48L621.45,305.65L621.92,308.45L622.34,311.55L623.17,319.59L624.00,330.15L624.68,340.46L625.46,353.91L628.01,402.67L629.05,421.42L630.09,438.06L631.13,452.09L632.12,462.71L632.58,466.76L633.05,470.14L633.52,472.80L633.99,474.71L634.46,475.83L634.67,476.07L634.87,476.14L635.13,475.98L635.34,475.65L635.76,474.44L636.23,472.15L636.64,469.27L637.06,465.57L637.47,461.07L638.36,448.94L639.09,436.58L639.92,420.27L643.19,348.83L644.03,333.72L644.86,321.48L645.69,312.35L646.11,308.90L646.52,306.13L646.94,303.95L647.41,302.12L647.93,300.70L648.50,299.71L649.07,299.12L649.80,298.74L650.68,298.57L652.14,298.51L771.50,298.50" class="cr"/>
<path d="M459.50,484.50L536.73,484.46L537.93,484.38L538.92,484.25L539.75,484.03L540.48,483.73L541.15,483.30L541.73,482.80L542.30,482.13L542.82,481.35L543.65,479.66L544.43,477.47L545.16,474.80L545.83,471.70L546.51,467.92L547.19,463.44L547.81,458.64L548.49,452.73L549.58,441.67L550.78,427.70L554.73,375.48L556.29,356.37L557.12,347.26L557.95,339.03L558.73,332.18L559.56,325.78L560.45,320.01L561.38,314.95L562.32,310.88L563.31,307.52L564.40,304.72L564.97,303.58L565.55,302.62L566.17,301.76L566.79,301.06L567.47,300.46L568.25,299.93L569.50,299.34L571.01,298.93L572.83,298.68L575.32,298.55L580.89,298.50L615.99,298.50L619.79,298.55L621.35,298.64L622.55,298.79L623.54,299.02L624.42,299.35L625.20,299.80L625.88,300.36L626.50,301.05L627.12,301.97L627.80,303.29L628.42,304.87L629.00,306.68L629.57,308.91L630.14,311.62L630.66,314.53L631.70,321.80L632.74,331.10L633.78,342.36L634.82,355.21L637.47,390.07L638.31,399.86L639.09,407.89L639.97,415.34L640.44,418.49L640.85,420.81L641.32,422.84L641.74,424.12L642.15,424.89L642.36,425.08L642.57,425.13L642.83,425.01L643.04,424.76L643.45,423.82L643.87,422.29L644.29,420.14L644.70,417.34L645.12,413.87L645.95,404.85L646.63,395.48L647.30,384.46L650.11,332.37L650.79,322.15L651.46,314.00L652.14,307.99L652.50,305.58L652.87,303.67L653.23,302.20L653.65,300.96L654.12,300.00L654.64,299.33L655.21,298.91L655.88,298.67L656.77,298.55L658.23,298.50L771.50,298.50" class="ck"/>
<text transform="translate(459.5,498.5) scale(1,1.15)" class="tl" text-anchor="middle">-500</text><text transform="translate(521.9,498.5) scale(1,1.15)" class="tl" text-anchor="middle">-400</text><text transform="translate(584.3,498.5) scale(1,1.15)" class="tl" text-anchor="middle">-300</text><text transform="translate(646.7,498.5) scale(1,1.15)" class="tl" text-anchor="middle">-200</text><text transform="translate(709.1,498.5) scale(1,1.15)" class="tl" text-anchor="middle">-100</text><text transform="translate(771.5,498.5) scale(1,1.15)" class="tl" text-anchor="middle">0</text><text transform="translate(472.4,291.5) scale(1,1.15)" class="tl" text-anchor="middle">7</text><text transform="translate(532.22,291.5) scale(1,1.15)" class="tl" text-anchor="middle">6</text><text transform="translate(592.04,291.5) scale(1,1.15)" class="tl" text-anchor="middle">5</text><text transform="translate(651.86,291.5) scale(1,1.15)" class="tl" text-anchor="middle">4</text><text transform="translate(711.68,291.5) scale(1,1.15)" class="tl" text-anchor="middle">3</text><text transform="translate(771.5,291.5) scale(1,1.15)" class="tl" text-anchor="middle">2</text><text transform="translate(455.5,488.1) scale(1,1.15)" class="tl" text-anchor="end">0</text><text transform="translate(775.5,488.1) scale(1,1.15)" class="tl" text-anchor="start">0</text><text transform="translate(455.5,450.9) scale(1,1.15)" class="tl" text-anchor="end">0.2</text><text transform="translate(775.5,450.9) scale(1,1.15)" class="tl" text-anchor="start">0.2</text><text transform="translate(455.5,413.7) scale(1,1.15)" class="tl" text-anchor="end">0.4</text><text transform="translate(775.5,413.7) scale(1,1.15)" class="tl" text-anchor="start">0.4</text><text transform="translate(455.5,376.5) scale(1,1.15)" class="tl" text-anchor="end">0.6</text><text transform="translate(775.5,376.5) scale(1,1.15)" class="tl" text-anchor="start">0.6</text><text transform="translate(455.5,339.3) scale(1,1.15)" class="tl" text-anchor="end">0.8</text><text transform="translate(775.5,339.3) scale(1,1.15)" class="tl" text-anchor="start">0.8</text><text transform="translate(455.5,302.1) scale(1,1.15)" class="tl" text-anchor="end">1</text><text transform="translate(775.5,302.1) scale(1,1.15)" class="tl" text-anchor="start">1</text>
<text x="615.5" y="513.5" class="al" text-anchor="middle">t (ms)</text>
<text x="615.5" y="276.5" class="al" text-anchor="middle">r (m)</text>
<text transform="translate(426.5,391) rotate(-90)" class="al" text-anchor="middle">P<tspan class="sub" dx="0.8" dy="6">coverage</tspan></text>
<rect x="465.3" y="304.3" width="80.5" height="29" class="lg"/>
<path d="M469,312.5h20.5" class="cr"/>
<path d="M469,324.5h20.5" class="ck"/>
<text x="491" y="316.1" class="lt">h = 2 m</text>
<text x="491" y="328.6" class="lt">h = 1.3 m</text>
</svg></body></html>
